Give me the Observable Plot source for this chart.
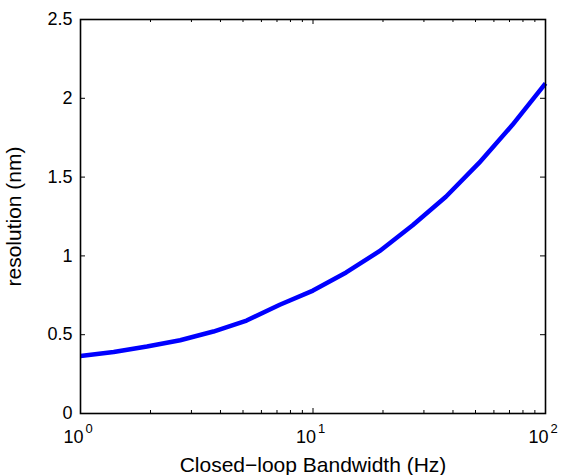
<!DOCTYPE html>
<html><head><meta charset="utf-8">
<script src="https://cdn.jsdelivr.net/npm/d3@7"></script>
<script src="https://cdn.jsdelivr.net/npm/@observablehq/plot@0.6"></script>
<style>body{margin:0;background:#fff;} #chart svg{display:block;}</style>
</head><body><div id="chart"></div>
<script>
const bandwidth = [1, 1.389, 1.931, 2.683, 3.728, 5.179, 7.197, 10, 13.89, 19.31, 26.83, 37.28, 51.79, 71.97, 100];
const resolution = [0.365, 0.39, 0.425, 0.465, 0.52, 0.59, 0.69, 0.78, 0.895, 1.03, 1.195, 1.375, 1.59, 1.83, 2.095];
const yTicks = [0, 0.5, 1, 1.5, 2, 2.5];
const xMajor = [1, 10, 100];
const xExponents = ["0", "1", "2"];
const xMinor = [2, 3, 4, 5, 6, 7, 8, 9, 20, 30, 40, 50, 60, 70, 80, 90];
const xLabel = "Closed\u2212loop Bandwidth (Hz)";
const yLabel = "resolution (nm)";

const data = bandwidth.map((b, i) => ({b, r: resolution[i]}));
const W = 570, H = 475, mL = 80, mR = 25, mT = 19, mB = 62;
const pw = W - mL - mR, ph = H - mT - mB;
const font = "Liberation Sans, Arial, Helvetica, sans-serif";

const chart = Plot.plot({
  width: W, height: H,
  marginLeft: mL, marginRight: mR, marginTop: mT, marginBottom: mB,
  style: {fontFamily: font, background: "#fff", color: "#000"},
  x: {type: "log", domain: [1, 100], axis: null},
  y: {domain: [0, 2.5], axis: null},
  marks: [
    Plot.line(data, {x: "b", y: "r", stroke: "#0000ff", strokeWidth: 4.5, strokeLinejoin: "round", strokeLinecap: "butt"}),
    // inward ticks
    Plot.tickY(yTicks, {y: d => d, stroke: "#000", insetRight: pw - 5}),
    Plot.tickY(yTicks, {y: d => d, stroke: "#000", insetLeft: pw - 5}),
    Plot.tickX(xMajor, {x: d => d, stroke: "#000", insetTop: ph - 5}),
    Plot.tickX(xMajor, {x: d => d, stroke: "#000", insetBottom: ph - 5}),
    Plot.tickX(xMinor, {x: d => d, stroke: "#000", insetTop: ph - 3}),
    Plot.tickX(xMinor, {x: d => d, stroke: "#000", insetBottom: ph - 3}),
    Plot.frame({stroke: "#000", strokeWidth: 1.6}),
    // y tick labels
    Plot.text(yTicks, {y: d => d, frameAnchor: "left", textAnchor: "end", dx: -8, text: d => String(d), fontSize: 18, fill: "#000"}),
    // x tick labels 10^k
    Plot.text(xMajor, {x: d => d, frameAnchor: "bottom", textAnchor: "end", lineAnchor: "bottom", dx: 3, dy: 29, text: d => "10", fontSize: 18, fill: "#000"}),
    Plot.text(xMajor, {x: d => d, frameAnchor: "bottom", textAnchor: "start", lineAnchor: "bottom", dx: 5, dy: 19, text: (d, i) => xExponents[i], fontSize: 13, fill: "#000"}),
    // axis labels
    Plot.text([xLabel], {frameAnchor: "bottom", textAnchor: "middle", lineAnchor: "bottom", dy: 58, text: d => d, fontSize: 21, fill: "#000"}),
    Plot.text([yLabel], {frameAnchor: "left", textAnchor: "middle", lineAnchor: "bottom", rotate: -90, dx: -60, text: d => d, fontSize: 21, fill: "#000"})
  ]
});
document.getElementById("chart").appendChild(chart);
</script>
</body></html>
